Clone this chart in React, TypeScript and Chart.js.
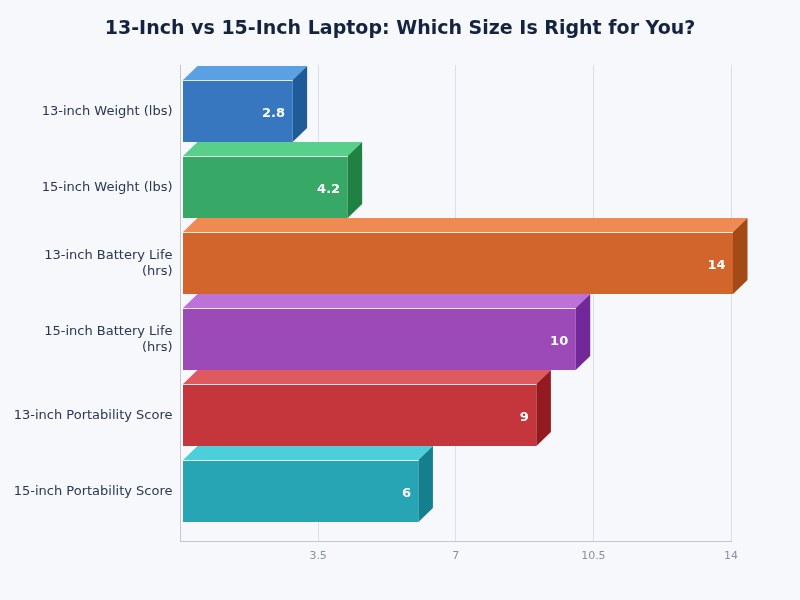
import React, { useEffect, useRef } from "react";
import { Chart, registerables } from "chart.js";

Chart.register(...registerables);

const categories = [
  "13-inch Weight (lbs)",
  "15-inch Weight (lbs)",
  ["13-inch Battery Life", "(hrs)"],
  ["15-inch Battery Life", "(hrs)"],
  "13-inch Portability Score",
  "15-inch Portability Score",
];
const values = [2.8, 4.2, 14, 10, 9, 6];
const frontColors = ["#3677bf", "#38a866", "#d2652c", "#9b4ab8", "#c5363c", "#27a5b5"];
const topColors = ["#5ba0e3", "#58cf8b", "#ee8a52", "#bd72d8", "#df5a5f", "#4dcfdb"];
const sideColors = ["#1f5a99", "#1f8142", "#a34a17", "#73289a", "#931a1f", "#14808e"];
const xTicks = [0, 3.5, 7, 10.5, 14];
const titleText = "13-Inch vs 15-Inch Laptop: Which Size Is Right for You?";

const FONT = "'DejaVu Sans'";
const DEPTH_X = 14.5;
const DEPTH_Y = 14;
const SHIFT = 2;

const bar3d = {
  id: "bar3d",
  afterLayout(chart: any) {
    // the title is centred on the whole canvas, not on the padded plot
    chart.titleBlock.left = 0;
    chart.titleBlock.right = chart.width;
    chart.titleBlock.width = chart.width;
  },
  beforeDatasetDraw(chart: any) {
    chart.ctx.save();
    chart.ctx.translate(SHIFT, 0);
  },
  afterDatasetDraw(chart: any) {
    const ctx = chart.ctx;
    const meta = chart.getDatasetMeta(0);
    meta.data.forEach((el: any, i: number) => {
      const left = el.base;
      const right = el.x;
      const top = el.y - el.height / 2;
      const bottom = el.y + el.height / 2;

      ctx.fillStyle = topColors[i];
      ctx.beginPath();
      ctx.moveTo(left, top);
      ctx.lineTo(left + DEPTH_X, top - DEPTH_Y);
      ctx.lineTo(right + DEPTH_X, top - DEPTH_Y);
      ctx.lineTo(right, top);
      ctx.closePath();
      ctx.fill();

      ctx.fillStyle = sideColors[i];
      ctx.beginPath();
      ctx.moveTo(right, top);
      ctx.lineTo(right + DEPTH_X, top - DEPTH_Y);
      ctx.lineTo(right + DEPTH_X, bottom - DEPTH_Y);
      ctx.lineTo(right, bottom);
      ctx.closePath();
      ctx.fill();

      ctx.strokeStyle = "rgba(255,255,255,0.85)";
      ctx.lineWidth = 1;
      ctx.beginPath();
      ctx.moveTo(left, Math.round(top) + 0.5);
      ctx.lineTo(right, Math.round(top) + 0.5);
      ctx.stroke();

      ctx.fillStyle = "#ffffff";
      ctx.font = `bold 13px ${FONT}`;
      ctx.textAlign = "right";
      ctx.textBaseline = "middle";
      ctx.fillText(String(values[i]), right - 7.5, el.y + 3);
    });
    ctx.restore();
  },
};

export default function App() {
  const ref = useRef<HTMLCanvasElement>(null);
  useEffect(() => {
    const chart = new Chart(ref.current as HTMLCanvasElement, {
      type: "bar",
      plugins: [bar3d],
      data: {
        labels: categories as any,
        datasets: [
          {
            data: values,
            backgroundColor: frontColors,
            borderWidth: 0,
            categoryPercentage: 1,
            barPercentage: 62 / 76,
            clip: false as any,
          },
        ],
      },
      options: {
        indexAxis: "y",
        animation: false,
        responsive: false,
        layout: { padding: { left: 0, right: 69, top: 0, bottom: 35 } },
        plugins: {
          legend: { display: false },
          tooltip: { enabled: false },
          title: {
            display: true,
            text: titleText,
            color: "#14233f",
            font: { family: FONT, size: 19, weight: "bold", lineHeight: 1.2 },
            padding: { top: 17.6, bottom: 24.6 },
          },
        },
        scales: {
          x: {
            type: "linear",
            min: 0,
            max: 14,
            afterBuildTicks: (s: any) => {
              s.ticks = xTicks.map((value) => ({ value }));
            },
            afterFit: (s: any) => {
              s.height = 24;
            },
            grid: { color: "#dcdfe7", lineWidth: 1, drawTicks: false },
            border: { color: "#c2c6cf", width: 1 },
            ticks: {
              color: "#8a8fa3",
              font: { family: FONT, size: 11 },
              padding: 9,
              callback: (v: any) => (v === 0 ? "" : String(v)),
            },
          },
          y: {
            type: "category",
            afterFit: (s: any) => {
              s.width = 180.5;
            },
            afterUpdate: (s: any) => {
              s._startValue = -46 / 76;
              s._valueRange = 476 / 76;
            },
            grid: { display: false, drawTicks: false },
            border: { color: "#c2c6cf", width: 1 },
            ticks: {
              color: "#2b3650",
              font: { family: FONT, size: 13, lineHeight: 1.23 },
              padding: 8,
              labelOffset: 1,
              autoSkip: false,
            },
          },
        },
      },
    } as any);
    return () => chart.destroy();
  }, []);
  return (
    <div style={{ position: "absolute", left: 0, top: 0, width: 800, height: 600, background: "#f6f8fc" }}>
      <canvas ref={ref} width={800} height={600} style={{ display: "block" }} />
    </div>
  );
}
